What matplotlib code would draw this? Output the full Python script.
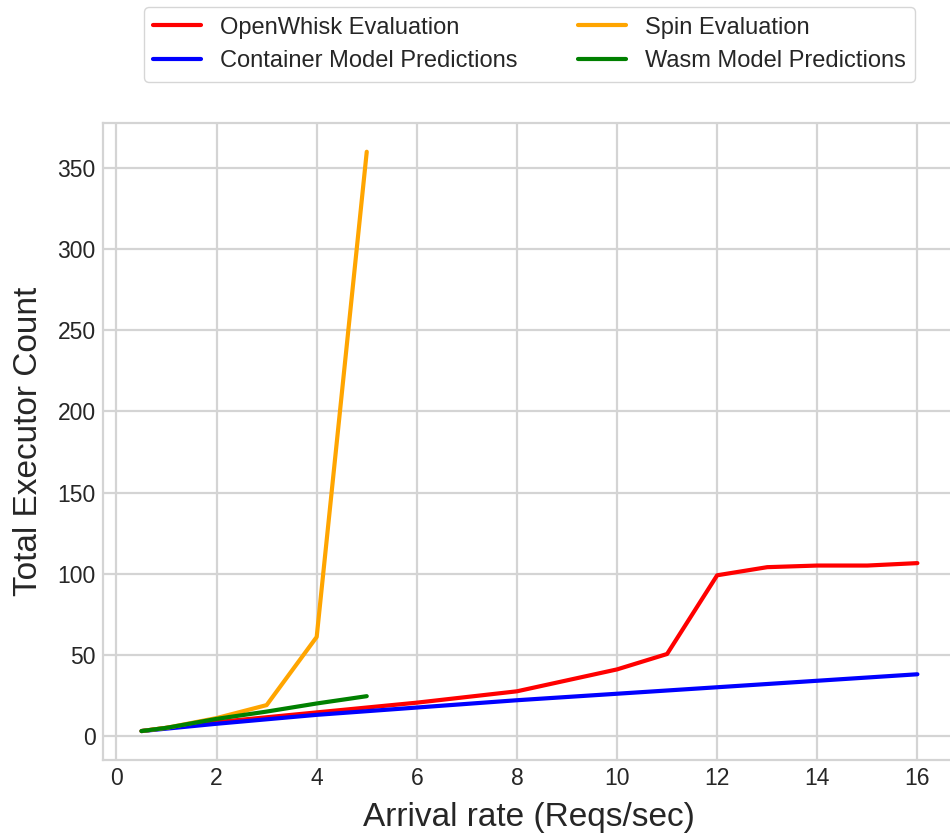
import matplotlib
matplotlib.use("Agg")
import matplotlib.pyplot as plt

plt.style.use("seaborn-v0_8-whitegrid")
plt.rcParams["font.family"] = ["Liberation Sans", "DejaVu Sans"]

# Arrival rates (requests per second) and executor counts
rate_openwhisk = [0.5, 1, 2, 3, 4, 5, 6, 8, 10, 11, 12, 13, 14, 15, 16]
count_openwhisk = [3, 5, 8.5, 11.5, 14.5, 17.5, 20.5, 27.5, 41, 50.5, 99, 104, 105, 105, 106.5]

rate_spin = [0.5, 1, 2, 3, 4, 5]
count_spin = [3, 5, 11, 19, 61, 360]

rate_container = [0.5, 1, 2, 4, 6, 8, 10, 12, 14, 16]
count_container = [3, 4.5, 7.5, 13, 17.5, 22, 26, 30, 34, 38]

rate_wasm = [0.5, 1, 2, 3, 4, 5]
count_wasm = [3, 5, 10.5, 15, 20, 24.5]

fig = plt.figure(figsize=(9.5, 8.33), dpi=100)
ax = fig.add_axes([0.1081, 0.0876, 0.8984, 0.765])

line_kw = dict(lw=3.0, solid_capstyle="round", solid_joinstyle="round")
ax.plot(rate_openwhisk, count_openwhisk, color="red", label="OpenWhisk Evaluation", **line_kw)
ax.plot(rate_container, count_container, color="blue", label="Container Model Predictions", **line_kw)
ax.plot(rate_spin, count_spin, color="orange", label="Spin Evaluation", **line_kw)
ax.plot(rate_wasm, count_wasm, color="green", label="Wasm Model Predictions", **line_kw)

ax.grid(True, color="#d4d4d4", lw=1.6)
for sp in ax.spines.values():
    sp.set_color("#d4d4d4")
    sp.set_linewidth(1.6)

ax.set_xticks(range(0, 17, 2))
ax.set_yticks(range(0, 351, 50))
ax.tick_params(labelsize=16.5, colors="#262626", pad=5)
ax.set_xlabel("Arrival rate (Reqs/sec)", fontsize=24, color="#262626", labelpad=9)
ax.set_ylabel("Total Executor Count", fontsize=24, color="#262626", labelpad=10)

ax.legend(loc="upper center", bbox_to_anchor=(0.5, 1.2), ncol=2, fontsize=17,
          frameon=True, columnspacing=2.6)

fig.savefig("out.png", dpi=100)
